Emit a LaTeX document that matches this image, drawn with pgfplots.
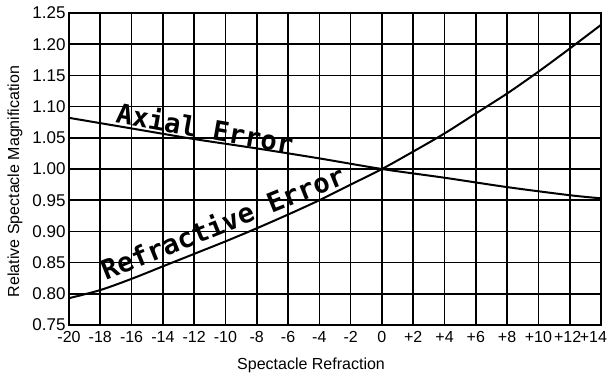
\documentclass[border=0pt]{standalone}
\usepackage{fontspec}
\setmainfont{Liberation Sans}
\newfontfamily\handfont{DejaVu Sans Mono}
\usepackage{pgfplots}
\pgfplotsset{compat=1.18}
\begin{document}
\begin{tikzpicture}
\useasboundingbox (-69pt,-51pt) rectangle (544pt,325pt);
\begin{axis}[
  name=ax,
  at={(0,0)}, anchor=south west,
  scale only axis,
  width=532pt, height=312pt,
  xmin=-20, xmax=14, ymin=0.75, ymax=1.25,
  xtick={-20,-18,...,14},
  xticklabels={-20,-18,-16,-14,-12,-10,-8,-6,-4,-2,0,+2,+4,+6,+8,+10,{\makebox[0pt]{+12\hspace*{4pt}}},{\makebox[0pt][r]{+14\hspace*{-6pt}}}},
  ytick={0.75,0.80,...,1.26},
  yticklabel style={font=\fontsize{17}{19}\selectfont,/pgf/number format/.cd,fixed,fixed zerofill,precision=2,assume math mode=true},
  xticklabel style={font=\fontsize{16}{18}\selectfont,yshift=-3pt, inner xsep=0pt},
  major tick length=0pt,
  grid=major,
  grid style={black, line width=1.6pt},
  axis line style={black, line width=1.8pt},
  xlabel={Spectacle Refraction},
  ylabel={Relative Spectacle Magnification},
  label style={font=\fontsize{16}{18}\selectfont},
  xlabel style={at={(axis description cs:0.455,0)}, anchor=center, yshift=-40pt},
  ylabel style={at={(axis description cs:-0.1015,0.46)}, anchor=center},
  clip=false,
]
\addplot[black, line width=2pt, smooth] coordinates {
(-20,1.082) (-16,1.065) (-12,1.048) (-8,1.033) (-4,1.017) (0,1.0) (4,0.986) (8,0.971) (12,0.958) (14,0.953)};
\addplot[black, line width=2pt, smooth] coordinates {
(-20,0.793) (-18,0.806) (-16,0.824) (-14,0.844) (-12,0.864) (-10,0.884) (-8,0.905) (-6,0.927) (-4,0.950) (-2,0.975) (0,1.0) (2,1.028) (4,1.057) (6,1.089) (8,1.121) (10,1.156) (12,1.193) (14,1.231)};
\node[rotate=-10, font=\handfont\bfseries\fontsize{27}{27}\selectfont] at (axis cs:-11.3,1.066) {Axial Error};
\node[rotate=22, font=\handfont\bfseries\fontsize{27}{27}\selectfont] at (axis cs:-10.2,0.915) {Refractive Error};
\end{axis}
\end{tikzpicture}
\end{document}
